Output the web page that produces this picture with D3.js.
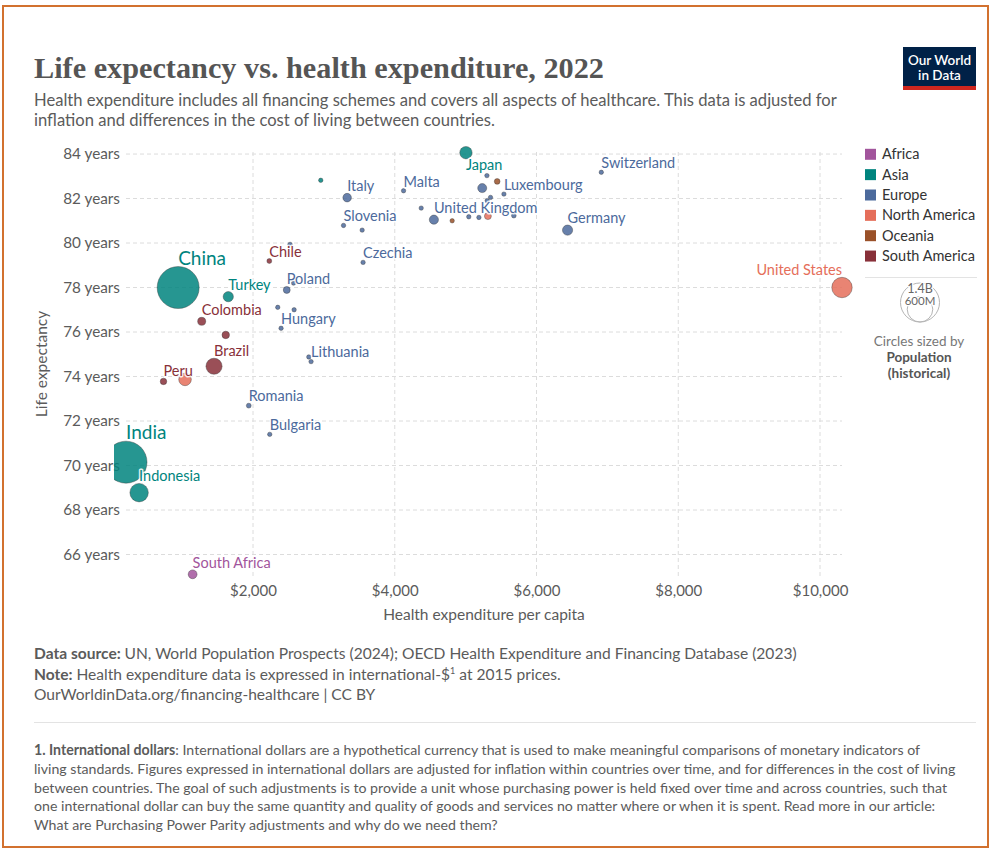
<!DOCTYPE html>
<html><head><meta charset="utf-8">
<script src="https://cdn.jsdelivr.net/npm/d3@7"></script>
<style>
body{margin:0;background:#fff}
svg{display:block}
text{font-family:Lato,"Noto Sans",sans-serif}
</style>
</head><body>
<svg id="c" width="992" height="852"></svg>
<script>
// ---------- DATA ----------
const countries = ["China","India","Indonesia","Turkey","Israel","Japan","Chile","Colombia","Argentina","Brazil","Peru","Mexico","United States","Canada","South Africa","Poland","Hungary","Slovakia","Croatia","Greece","Estonia","Lithuania","Latvia","Romania","Bulgaria","Italy","Slovenia","Portugal","Czechia","Malta","France","Sweden","Australia","Luxembourg","Belgium","Austria","Finland","United Kingdom","New Zealand","Ireland","Denmark","Netherlands","Germany","Switzerland"];
const regions = ["Asia","Asia","Asia","Asia","Asia","Asia","South America","South America","South America","South America","South America","North America","North America","North America","Africa","Europe","Europe","Europe","Europe","Europe","Europe","Europe","Europe","Europe","Europe","Europe","Europe","Europe","Europe","Europe","Europe","Europe","Oceania","Europe","Europe","Europe","Europe","Europe","Oceania","Europe","Europe","Europe","Europe","Europe"];
const healthExp = [944,208,393,1651,2956,5004,2230,1276,1615,1450,737,1041,10310,5314,1148,2476,2396,2349,2580,2523,2572,2819,2787,1940,2236,3328,3277,3540,3553,4124,5234,5300,5445,5540,5351,5304,4373,4552,4810,5044,5187,5680,6438,6914];
const lifeExp = [78.0,70.15,68.78,77.59,82.82,84.06,79.19,76.48,75.87,74.46,73.78,73.87,78.0,81.21,65.11,77.89,76.17,77.11,77.0,79.94,78.2,74.67,74.88,72.69,71.4,82.04,80.79,80.58,79.13,82.35,82.47,83.03,82.77,82.2,82.05,81.9,81.57,81.05,81.0,81.18,81.15,81.23,80.58,83.18];
const population = [1425,1425,275,85,9.5,124,19.6,52,45.5,210,34,128,337,39,63,39,9.7,5.6,4.0,10.4,1.3,2.8,1.9,19,6.8,59,2.1,10.4,10.5,0.5,66,10.5,26,0.65,11.7,9,5.5,68,5.1,5.1,5.9,17.7,84,8.8]; // millions
const labeled = ["China","India","Indonesia","Turkey","Japan","Chile","Colombia","Brazil","Peru","United States","South Africa","Poland","Hungary","Lithuania","Romania","Bulgaria","Italy","Slovenia","Czechia","Malta","Luxembourg","United Kingdom","Switzerland","Germany"];
const regionNames = ["Africa","Asia","Europe","North America","Oceania","South America"];
const yTicks = [66,68,70,72,74,76,78,80,82,84];
const xTicks = [2000,4000,6000,8000,10000];
const sizeLegendValues = [1400,600];
const sizeLegendLabels = ["1.4B","600M"];

// ---------- STYLE / LAYOUT ----------
const regionColors = ["#A2559C","#00847E","#4C6A9C","#E56E5A","#9A5129","#883039"];
const labelPlacement = {"Japan":"below","United States":"left"};
const bigLabels = ["China","India"];

const svg = d3.select("#c");
const W = 992, H = 852;
const plot = {left:126, right:842, top:152.7, bottom:574.3};

const color = d3.scaleOrdinal().domain(regionNames).range(regionColors);
const x = d3.scaleLinear().domain(d3.extent(healthExp)).range([plot.left, plot.right]);
const y = d3.scaleLinear().domain(d3.extent(lifeExp)).range([plot.bottom, plot.top]);
const rScale = d3.scaleSqrt().domain([0, d3.max(population)]).range([0, 21]);
const radius = p => Math.max(2.2, rScale(p));

const data = countries.map((c,i)=>({name:c, region:regions[i], x:healthExp[i], y:lifeExp[i], pop:population[i]}));

function fit(sel, target){ const w = sel.node().getComputedTextLength(); const fs = parseFloat(sel.style("font-size")); sel.style("font-size",(fs*target/w).toFixed(2)+"px"); }

// frame
svg.append("rect").attr("x",3).attr("y",6).attr("width",985).attr("height",841)
  .attr("fill","none").attr("stroke","#d2712f").attr("stroke-width",2);

// title
const title = svg.append("text").attr("x",34).attr("y",78)
  .style("font-family","'Liberation Serif','DejaVu Serif',serif").style("font-weight","700")
  .style("font-size","30px").attr("fill","#555")
  .text("Life expectancy vs. health expenditure, 2022");
fit(title, 570);
const subtitleLines = ["Health expenditure includes all financing schemes and covers all aspects of healthcare. This data is adjusted for",
  "inflation and differences in the cost of living between countries."];
subtitleLines.forEach((t,i)=>{
  svg.append("text").attr("x",34).attr("y",106+i*19.5).attr("fill","#5b5b5b")
    .style("font-size","16.6px").text(t);
});

// logo
const logo = svg.append("g");
logo.append("rect").attr("x",903).attr("y",47).attr("width",73).attr("height",43).attr("fill","#002147");
logo.append("rect").attr("x",903).attr("y",86).attr("width",73).attr("height",4).attr("fill","#ce261e");
logo.append("text").attr("x",939.5).attr("y",65).attr("text-anchor","middle").attr("fill","#fff")
  .style("font-size","13.5px").style("font-weight","600").text("Our World");
logo.append("text").attr("x",939.5).attr("y",80).attr("text-anchor","middle").attr("fill","#fff")
  .style("font-size","13.5px").style("font-weight","600").text("in Data");

// grid
const grid = svg.append("g").attr("stroke","#dcdcdc").attr("stroke-dasharray","4,3").attr("stroke-width",1);
grid.selectAll("line.h").data(yTicks).join("line").attr("class","h")
  .attr("x1",plot.left).attr("x2",plot.right).attr("y1",d=>y(d)).attr("y2",d=>y(d));
grid.selectAll("line.v").data(xTicks).join("line").attr("class","v")
  .attr("x1",d=>x(d)).attr("x2",d=>x(d)).attr("y1",152).attr("y2",578);

// axes (d3 axes, styled)
const yAxis = svg.append("g").attr("transform",`translate(${plot.left},0)`)
  .call(d3.axisLeft(y).tickValues(yTicks).tickSize(0).tickPadding(6).tickFormat(d=>d+" years"));
yAxis.select(".domain").remove();
yAxis.selectAll("text").attr("fill","#5b5b5b").style("font-size","15.3px").style("font-family","Lato");

const xAxis = svg.append("g").attr("transform",`translate(0,582)`)
  .call(d3.axisBottom(x).tickValues(xTicks).tickSize(0).tickPadding(3).tickFormat(d=>"$"+d3.format(",")(d)));
xAxis.select(".domain").remove();
xAxis.selectAll("text").attr("fill","#5b5b5b").style("font-size","15px").style("font-family","Lato");

svg.append("text").attr("transform","translate(47,364) rotate(-90)").attr("text-anchor","middle")
  .attr("fill","#5b5b5b").style("font-size","15.5px").text("Life expectancy");
svg.append("text").attr("x",484).attr("y",620).attr("text-anchor","middle")
  .attr("fill","#5b5b5b").style("font-size","15.5px").text("Health expenditure per capita");

// clip for marks
svg.append("clipPath").attr("id","clip").append("rect").attr("x",114).attr("y",0).attr("width",880).attr("height",H);

const sorted = data.slice().sort((a,b)=>b.pop-a.pop);
svg.append("g").attr("clip-path","url(#clip)").selectAll("circle").data(sorted).join("circle")
  .attr("cx",d=>x(d.x)).attr("cy",d=>y(d.y)).attr("r",d=>radius(d.pop))
  .attr("fill",d=>color(d.region)).attr("fill-opacity",0.85)
  .attr("stroke","#333").attr("stroke-opacity",0.55).attr("stroke-width",0.7);

// labels
const lab = svg.append("g");
data.filter(d=>labeled.includes(d.name)).forEach(d=>{
  const cx = x(d.x), cy = y(d.y), r = radius(d.pop);
  const big = bigLabels.includes(d.name);
  const place = labelPlacement[d.name] || "above-right";
  let tx = cx, ty = cy - r - 2, anchor = "start";
  if (place==="below") { ty = cy + r + 11; }
  if (place==="left") { anchor = "end"; }
  lab.append("text").attr("x",tx).attr("y",ty).attr("text-anchor",anchor)
    .attr("fill",color(d.region)).style("font-size", big?"19px":"14.5px")
    .attr("stroke","#fff").attr("stroke-width",3).attr("stroke-opacity",0.85).attr("paint-order","stroke")
    .attr("stroke-linejoin","round").text(d.name);
});

// color legend
const leg = svg.append("g");
regionNames.forEach((r,i)=>{
  const cy = 154.3 + i*20.35;
  leg.append("rect").attr("x",865).attr("y",cy-5.5).attr("width",11).attr("height",11).attr("fill",color(r));
  leg.append("text").attr("x",882).attr("y",cy).attr("dy","0.35em").attr("fill","#333")
    .style("font-size","14.5px").text(r);
});
leg.append("line").attr("x1",865).attr("x2",977).attr("y1",277.5).attr("y2",277.5).attr("stroke","#e3e3e3");

// size legend
const legScale = d3.scaleSqrt().domain([0, sizeLegendValues[0]]).range([0,19.5]);
const baseY = 322, cxL = 920;
sizeLegendValues.forEach((v,i)=>{
  const r = legScale(v);
  leg.append("circle").attr("cx",cxL).attr("cy",baseY-r).attr("r",r).attr("fill","none")
    .attr("stroke","#b5b5b5").attr("stroke-width",1);
  leg.append("text").attr("x",cxL).attr("y",baseY-2*r+ (i===0?10:9)).attr("text-anchor","middle")
    .attr("fill","#666").style("font-size", i===0?"12.5px":"11.5px")
    .attr("stroke","#fff").attr("stroke-width",2.5).attr("paint-order","stroke").text(sizeLegendLabels[i]);
});
leg.append("text").attr("x",919).attr("y",345.5).attr("text-anchor","middle").attr("fill","#777")
  .style("font-size","13.5px").text("Circles sized by");
leg.append("text").attr("x",919).attr("y",361.5).attr("text-anchor","middle").attr("fill","#555")
  .style("font-size","13.5px").style("font-weight","700").text("Population");
leg.append("text").attr("x",919).attr("y",377.5).attr("text-anchor","middle").attr("fill","#555")
  .style("font-size","13.5px").style("font-weight","700").text("(historical)");

// footer
const foot = svg.append("g").attr("fill","#5b5b5b").style("font-size","15.5px");
const f1 = foot.append("text").attr("x",34).attr("y",659);
f1.append("tspan").style("font-weight","700").text("Data source: ");
f1.append("tspan").text("UN, World Population Prospects (2024); OECD Health Expenditure and Financing Database (2023)");
fit(f1, 763);
const f2 = foot.append("text").attr("x",34).attr("y",680);
f2.append("tspan").style("font-weight","700").text("Note: ");
f2.append("tspan").text("Health expenditure data is expressed in international-$");
f2.append("tspan").attr("dy",-6).style("font-size","9px").text("1");
f2.append("tspan").attr("dy",6).text(" at 2015 prices.");
f2.style("font-size", f1.style("font-size"));
foot.append("text").attr("x",34).attr("y",700).style("font-size", f1.style("font-size")).text("OurWorldinData.org/financing-healthcare | CC BY");

svg.append("line").attr("x1",34).attr("x2",976).attr("y1",722.5).attr("y2",722.5).attr("stroke","#e3e3e3");

const noteLines = [
  ["1. International dollars", ": International dollars are a hypothetical currency that is used to make meaningful comparisons of monetary indicators of"],
  ["", "living standards. Figures expressed in international dollars are adjusted for inflation within countries over time, and for differences in the cost of living"],
  ["", "between countries. The goal of such adjustments is to provide a unit whose purchasing power is held fixed over time and across countries, such that"],
  ["", "one international dollar can buy the same quantity and quality of goods and services no matter where or when it is spent. Read more in our article:"],
  ["", "What are Purchasing Power Parity adjustments and why do we need them?"]
];
const noteTexts = noteLines.map((l,i)=>{
  const t = svg.append("text").attr("x",34).attr("y",755+i*18.8).attr("fill","#5b5b5b").style("font-size","14px");
  if (l[0]) t.append("tspan").style("font-weight","700").text(l[0]);
  t.append("tspan").text(l[1]);
  return t;
});
fit(noteTexts[1], 922);
noteTexts.forEach(t=>t.style("font-size", noteTexts[1].style("font-size")));
</script>
</body></html>
